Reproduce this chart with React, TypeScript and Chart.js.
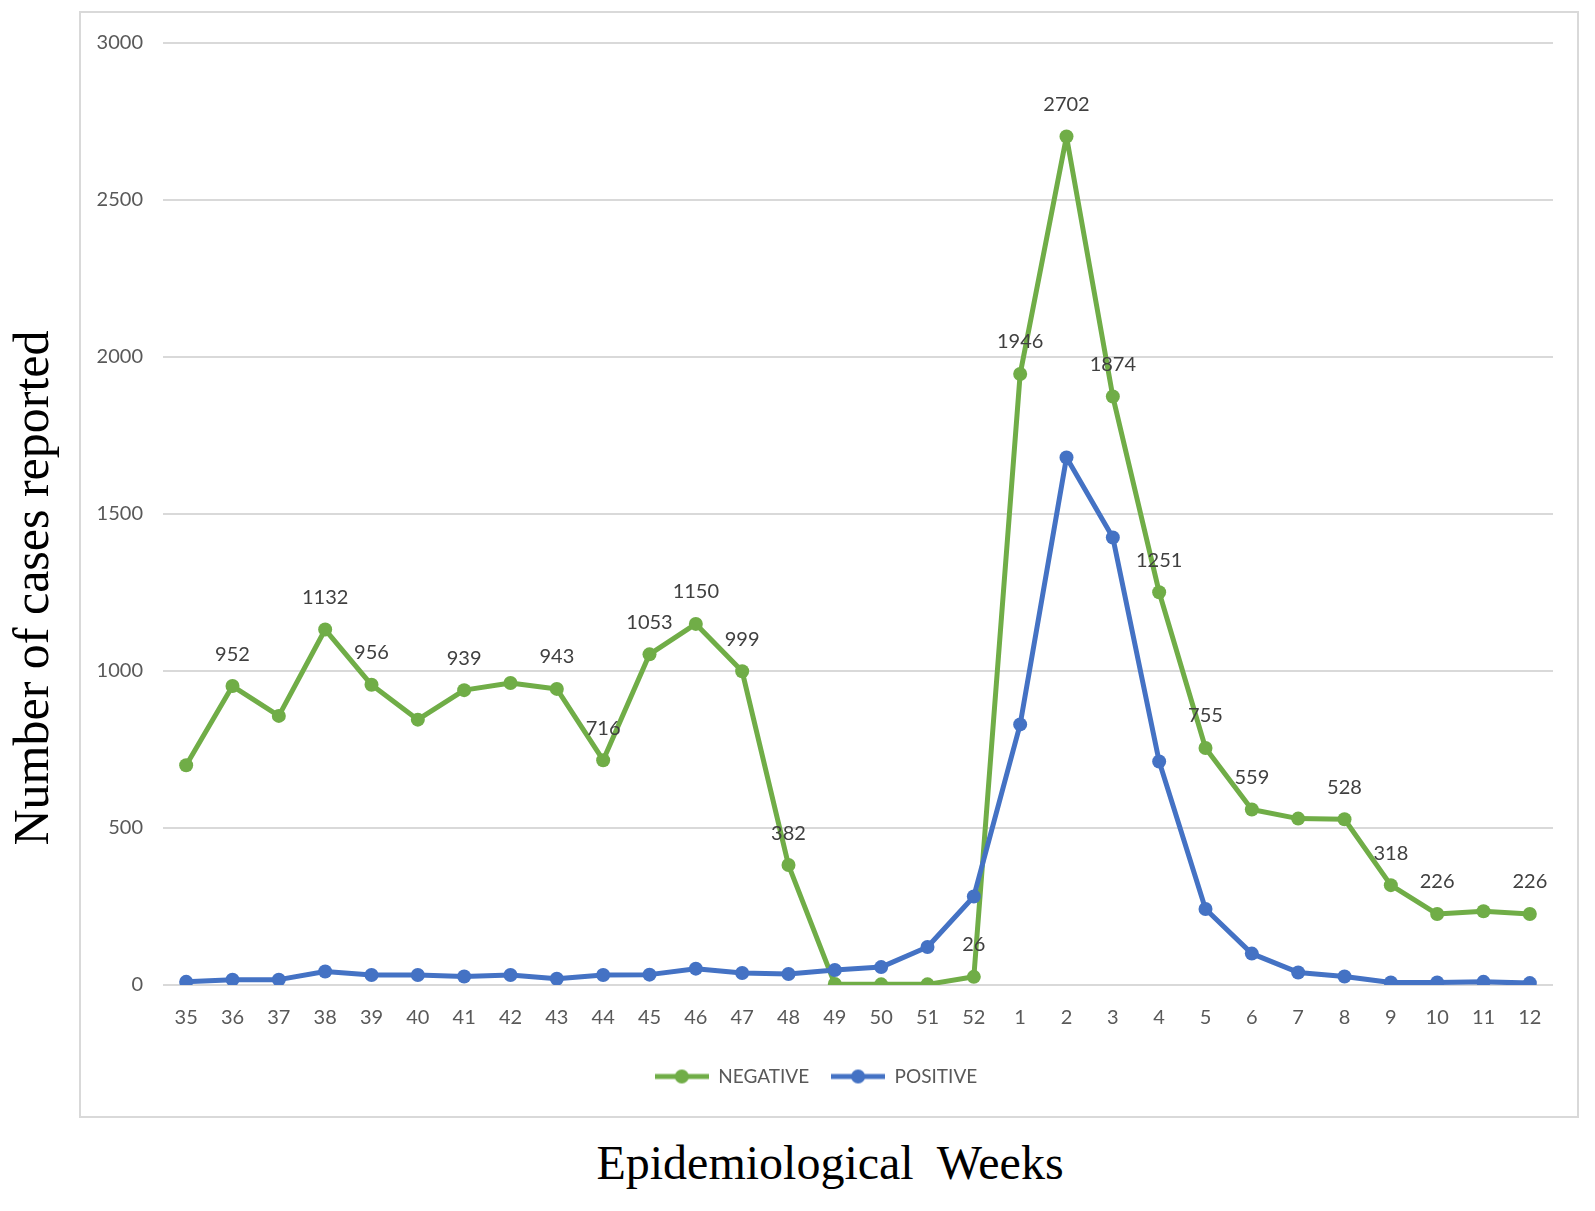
import React, { useEffect, useRef } from 'react';
import { Chart, registerables } from 'chart.js';

Chart.register(...registerables);

// epidemiological weeks (35 of one year to 12 of the next)
const weeks = [
  '35', '36', '37', '38', '39', '40', '41', '42', '43', '44', '45', '46', '47', '48', '49', '50', '51', '52',
  '1', '2', '3', '4', '5', '6', '7', '8', '9', '10', '11', '12',
];

const negative = [
  700, 952, 857, 1132, 956, 845, 939, 962, 943, 716, 1053, 1150, 999, 382, 3, 2, 2, 26,
  1946, 2702, 1874, 1251, 755, 559, 530, 528, 318, 226, 235, 226,
];

const positive = [
  10, 17, 17, 43, 32, 32, 27, 32, 20, 32, 33, 52, 38, 35, 48, 57, 121, 282,
  830, 1680, 1425, 712, 242, 100, 40, 27, 8, 8, 10, 6,
];

// weeks whose NEGATIVE value carries a data label
const labelledWeeks = [
  '36', '38', '39', '41', '43', '44', '45', '46', '47', '48', '52',
  '1', '2', '3', '4', '5', '6', '8', '9', '10', '12',
];

const yTicks = [0, 500, 1000, 1500, 2000, 2500, 3000];

const GREEN = '#70AD47';
const BLUE = '#4472C4';
const FONT = 'Lato, "Noto Sans", sans-serif';

// line + marker icon, like the legend keys of the original
function legendIcon(color: string) {
  const c = document.createElement('canvas');
  c.width = 54;
  c.height = 16;
  const ctx = c.getContext('2d')!;
  ctx.strokeStyle = color;
  ctx.lineWidth = 5;
  ctx.beginPath();
  ctx.moveTo(0, 8);
  ctx.lineTo(54, 8);
  ctx.stroke();
  ctx.fillStyle = color;
  ctx.beginPath();
  ctx.arc(27, 8, 7, 0, Math.PI * 2);
  ctx.fill();
  return c;
}

const valueLabels = {
  id: 'valueLabels',
  afterDatasetsDraw(chart: Chart) {
    const meta = chart.getDatasetMeta(0);
    const ctx = chart.ctx;
    ctx.save();
    ctx.font = `20px ${FONT}`;
    ctx.fillStyle = '#404040';
    ctx.textAlign = 'center';
    ctx.textBaseline = 'middle';
    weeks.forEach((w, i) => {
      if (!labelledWeeks.includes(w)) return;
      const pt = meta.data[i];
      ctx.fillText(String(negative[i]), pt.x, pt.y - 32);
    });
    ctx.restore();
  },
};

export default function App() {
  const chartRef = useRef<HTMLCanvasElement>(null);
  const chartInstance = useRef<Chart | null>(null);

  useEffect(() => {
    if (!chartRef.current) return;
    if (chartInstance.current) chartInstance.current.destroy();

    chartInstance.current = new Chart(chartRef.current, {
      type: 'line',
      data: {
        labels: weeks,
        datasets: [
          {
            label: 'NEGATIVE',
            data: negative,
            borderColor: GREEN,
            backgroundColor: GREEN,
            borderWidth: 5,
            borderJoinStyle: 'round',
            pointRadius: 7,
            pointBorderWidth: 0,
            tension: 0,
            order: 1,
          },
          {
            label: 'POSITIVE',
            data: positive,
            borderColor: BLUE,
            backgroundColor: BLUE,
            borderWidth: 5,
            borderJoinStyle: 'round',
            pointRadius: 7,
            pointBorderWidth: 0,
            tension: 0,
            order: 0,
          },
        ],
      },
      options: {
        responsive: false,
        animation: false,
        layout: { padding: { top: 31, right: 26, left: 0, bottom: 22 } },
        plugins: {
          tooltip: { enabled: false },
          legend: {
            position: 'bottom',
            labels: {
              usePointStyle: true,
              pointStyleWidth: 54,
              padding: 22,
              color: '#595959',
              font: { family: FONT, size: 19 },
              generateLabels: (chart: Chart) =>
                chart.data.datasets.map((ds: any, i: number) => ({
                  text: ds.label,
                  fillStyle: ds.borderColor,
                  strokeStyle: ds.borderColor,
                  lineWidth: 0,
                  pointStyle: legendIcon(ds.borderColor),
                  fontColor: '#595959',
                  hidden: false,
                  datasetIndex: i,
                })),
            },
          },
        },
        scales: {
          x: {
            offset: true,
            grid: { display: false, drawTicks: false },
            border: { display: false },
            ticks: { color: '#595959', font: { family: FONT, size: 20 }, padding: 21, maxRotation: 0, autoSkip: false },
            afterFit: (scale: any) => {
              scale.height = 60;
            },
          },
          y: {
            min: 0,
            max: 3000,
            afterBuildTicks: (scale: any) => {
              scale.ticks = yTicks.map((v) => ({ value: v }));
            },
            grid: { color: '#d9d9d9', lineWidth: 2, drawTicks: false },
            border: { display: false },
            ticks: {
              color: '#595959',
              font: { family: FONT, size: 20 },
              padding: 20,
              callback: (v: any) => String(v),
            },
            afterFit: (scale: any) => {
              scale.width = 84;
            },
          },
        },
      },
      plugins: [valueLabels],
    });

    return () => {
      if (chartInstance.current) {
        chartInstance.current.destroy();
        chartInstance.current = null;
      }
    };
  }, []);

  return (
    <div style={{ position: 'absolute', left: 0, top: 0, width: 1595, height: 1211, background: '#fff' }}>
      <div
        style={{
          position: 'absolute',
          left: 79,
          top: 11,
          width: 1500,
          height: 1107,
          boxSizing: 'border-box',
          border: '2px solid #d9d9d9',
        }}
      />
      <canvas
        ref={chartRef}
        width={1500}
        height={1107}
        style={{ position: 'absolute', left: 79, top: 11, width: 1500, height: 1107 }}
      />
      <div
        style={{
          position: 'absolute',
          left: 31,
          top: 588,
          transform: 'translate(-50%, -50%) rotate(-90deg)',
          whiteSpace: 'nowrap',
          font: '50px "Liberation Serif", serif',
          color: '#000',
        }}
      >
        Number of cases reported
      </div>
      <div
        style={{
          position: 'absolute',
          left: 830,
          top: 1162,
          transform: 'translate(-50%, -50%)',
          whiteSpace: 'pre',
          font: '48px "Liberation Serif", serif',
          color: '#000',
        }}
      >
        {'Epidemiological  Weeks'}
      </div>
    </div>
  );
}
